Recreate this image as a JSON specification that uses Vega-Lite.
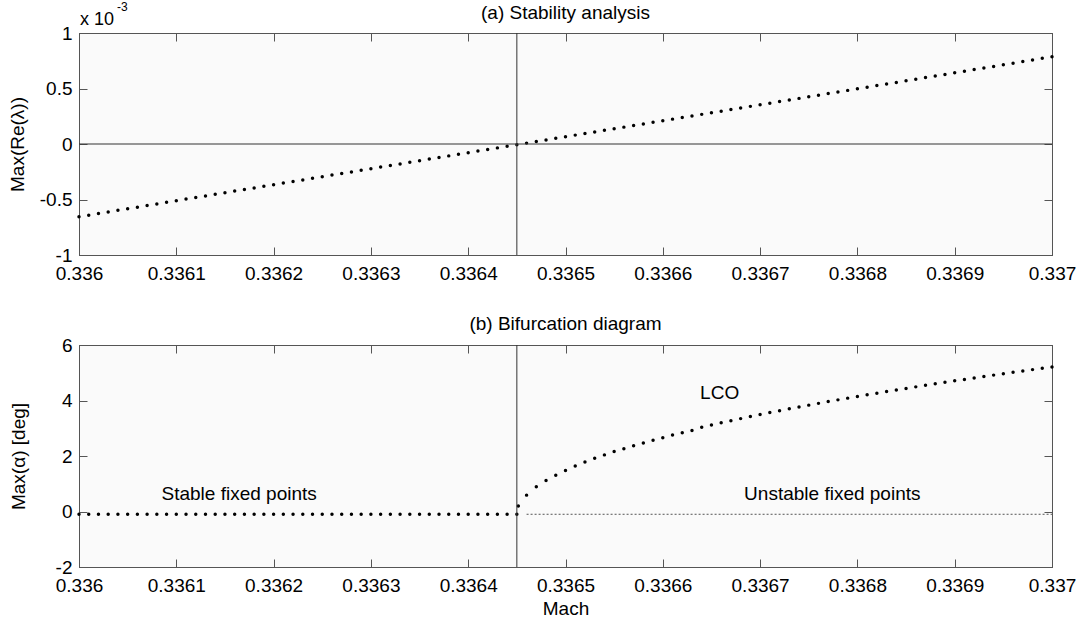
{
  "$schema": "https://vega.github.io/schema/vega-lite/v6.json",
  "background": "white",
  "padding": {"left": 7, "top": 0, "right": 28, "bottom": 4},
  "config": {
    "font": "Liberation Sans",
    "view": {"fill": "#fafafa", "stroke": "#555555", "strokeWidth": 1},
    "axis": {"domainColor": "#555555", "tickColor": "#555555", "labelColor": "black", "titleColor": "black", "labelFont": "Liberation Sans", "titleFont": "Liberation Sans", "labelFontSize": 19, "titleFontSize": 19, "titleFontWeight": "normal", "tickSize": -8, "grid": false, "labelFlush": false, "labelOverlap": false},
    "title": {"font": "Liberation Sans", "fontSize": 19, "fontWeight": "normal", "color": "black", "anchor": "middle"},
    "concat": {"spacing": 30}
  },
  "datasets": {
    "a": [
      {"x":0.336,"y":-0.655},{"x":0.33601,"y":-0.641},{"x":0.33602,"y":-0.626},{"x":0.33603,"y":-0.612},{"x":0.33604,"y":-0.597},{"x":0.33605,"y":-0.583},{"x":0.33606,"y":-0.569},{"x":0.33607,"y":-0.554},{"x":0.33608,"y":-0.54},{"x":0.33609,"y":-0.525},
      {"x":0.3361,"y":-0.511},{"x":0.33611,"y":-0.496},{"x":0.33612,"y":-0.482},{"x":0.33613,"y":-0.468},{"x":0.33614,"y":-0.453},{"x":0.33615,"y":-0.439},{"x":0.33616,"y":-0.424},{"x":0.33617,"y":-0.41},{"x":0.33618,"y":-0.396},{"x":0.33619,"y":-0.381},
      {"x":0.3362,"y":-0.367},{"x":0.33621,"y":-0.352},{"x":0.33622,"y":-0.338},{"x":0.33623,"y":-0.324},{"x":0.33624,"y":-0.309},{"x":0.33625,"y":-0.295},{"x":0.33626,"y":-0.28},{"x":0.33627,"y":-0.266},{"x":0.33628,"y":-0.252},{"x":0.33629,"y":-0.237},
      {"x":0.3363,"y":-0.223},{"x":0.33631,"y":-0.208},{"x":0.33632,"y":-0.194},{"x":0.33633,"y":-0.18},{"x":0.33634,"y":-0.165},{"x":0.33635,"y":-0.151},{"x":0.33636,"y":-0.136},{"x":0.33637,"y":-0.122},{"x":0.33638,"y":-0.107},{"x":0.33639,"y":-0.093},
      {"x":0.3364,"y":-0.079},{"x":0.33641,"y":-0.064},{"x":0.33642,"y":-0.05},{"x":0.33643,"y":-0.035},{"x":0.33644,"y":-0.021},{"x":0.33645,"y":-0.007},{"x":0.33646,"y":0.008},{"x":0.33647,"y":0.022},{"x":0.33648,"y":0.037},{"x":0.33649,"y":0.051},
      {"x":0.3365,"y":0.066},{"x":0.33651,"y":0.08},{"x":0.33652,"y":0.094},{"x":0.33653,"y":0.109},{"x":0.33654,"y":0.123},{"x":0.33655,"y":0.138},{"x":0.33656,"y":0.152},{"x":0.33657,"y":0.166},{"x":0.33658,"y":0.181},{"x":0.33659,"y":0.195},
      {"x":0.3366,"y":0.21},{"x":0.33661,"y":0.224},{"x":0.33662,"y":0.238},{"x":0.33663,"y":0.253},{"x":0.33664,"y":0.267},{"x":0.33665,"y":0.282},{"x":0.33666,"y":0.296},{"x":0.33667,"y":0.31},{"x":0.33668,"y":0.325},{"x":0.33669,"y":0.339},
      {"x":0.3367,"y":0.354},{"x":0.33671,"y":0.368},{"x":0.33672,"y":0.383},{"x":0.33673,"y":0.397},{"x":0.33674,"y":0.411},{"x":0.33675,"y":0.426},{"x":0.33676,"y":0.44},{"x":0.33677,"y":0.455},{"x":0.33678,"y":0.469},{"x":0.33679,"y":0.483},
      {"x":0.3368,"y":0.498},{"x":0.33681,"y":0.512},{"x":0.33682,"y":0.527},{"x":0.33683,"y":0.541},{"x":0.33684,"y":0.555},{"x":0.33685,"y":0.57},{"x":0.33686,"y":0.584},{"x":0.33687,"y":0.599},{"x":0.33688,"y":0.613},{"x":0.33689,"y":0.627},
      {"x":0.3369,"y":0.642},{"x":0.33691,"y":0.656},{"x":0.33692,"y":0.671},{"x":0.33693,"y":0.685},{"x":0.33694,"y":0.699},{"x":0.33695,"y":0.714},{"x":0.33696,"y":0.728},{"x":0.33697,"y":0.743},{"x":0.33698,"y":0.757},{"x":0.33699,"y":0.772},
      {"x":0.337,"y":0.786}
    ],
    "b": [
      {"x":0.336,"y":-0.1},{"x":0.33601,"y":-0.1},{"x":0.33602,"y":-0.1},{"x":0.33603,"y":-0.1},{"x":0.33604,"y":-0.1},{"x":0.33605,"y":-0.1},{"x":0.33606,"y":-0.1},{"x":0.33607,"y":-0.1},{"x":0.33608,"y":-0.1},{"x":0.33609,"y":-0.1},
      {"x":0.3361,"y":-0.1},{"x":0.33611,"y":-0.1},{"x":0.33612,"y":-0.1},{"x":0.33613,"y":-0.1},{"x":0.33614,"y":-0.1},{"x":0.33615,"y":-0.1},{"x":0.33616,"y":-0.1},{"x":0.33617,"y":-0.1},{"x":0.33618,"y":-0.1},{"x":0.33619,"y":-0.1},
      {"x":0.3362,"y":-0.1},{"x":0.33621,"y":-0.1},{"x":0.33622,"y":-0.1},{"x":0.33623,"y":-0.1},{"x":0.33624,"y":-0.1},{"x":0.33625,"y":-0.1},{"x":0.33626,"y":-0.1},{"x":0.33627,"y":-0.1},{"x":0.33628,"y":-0.1},{"x":0.33629,"y":-0.1},
      {"x":0.3363,"y":-0.1},{"x":0.33631,"y":-0.1},{"x":0.33632,"y":-0.1},{"x":0.33633,"y":-0.1},{"x":0.33634,"y":-0.1},{"x":0.33635,"y":-0.1},{"x":0.33636,"y":-0.1},{"x":0.33637,"y":-0.1},{"x":0.33638,"y":-0.1},{"x":0.33639,"y":-0.1},
      {"x":0.3364,"y":-0.1},{"x":0.33641,"y":-0.1},{"x":0.33642,"y":-0.1},{"x":0.33643,"y":-0.1},{"x":0.33644,"y":-0.1},{"x":0.33645,"y":-0.1},
      {"x":0.3364515,"y":0.2},{"x":0.33646,"y":0.59},{"x":0.33647,"y":0.89},{"x":0.33648,"y":1.12},{"x":0.33649,"y":1.31},{"x":0.3365,"y":1.48},{"x":0.33651,"y":1.64},{"x":0.33652,"y":1.78},{"x":0.33653,"y":1.92},{"x":0.33654,"y":2.04},
      {"x":0.33655,"y":2.16},{"x":0.33656,"y":2.26},{"x":0.33657,"y":2.37},{"x":0.33658,"y":2.47},{"x":0.33659,"y":2.57},{"x":0.3366,"y":2.66},{"x":0.33661,"y":2.76},{"x":0.33662,"y":2.84},{"x":0.33663,"y":2.92},{"x":0.33664,"y":3.035},
      {"x":0.33665,"y":3.116},{"x":0.33666,"y":3.195},{"x":0.33667,"y":3.272},{"x":0.33668,"y":3.347},{"x":0.33669,"y":3.421},{"x":0.3367,"y":3.493},{"x":0.33671,"y":3.564},{"x":0.33672,"y":3.633},{"x":0.33673,"y":3.701},{"x":0.33674,"y":3.767},
      {"x":0.33675,"y":3.833},{"x":0.33676,"y":3.897},{"x":0.33677,"y":3.961},{"x":0.33678,"y":4.023},{"x":0.33679,"y":4.085},{"x":0.3368,"y":4.145},{"x":0.33681,"y":4.205},{"x":0.33682,"y":4.264},{"x":0.33683,"y":4.322},{"x":0.33684,"y":4.379},
      {"x":0.33685,"y":4.435},{"x":0.33686,"y":4.491},{"x":0.33687,"y":4.546},{"x":0.33688,"y":4.601},{"x":0.33689,"y":4.654},{"x":0.3369,"y":4.708},{"x":0.33691,"y":4.76},{"x":0.33692,"y":4.812},{"x":0.33693,"y":4.864},{"x":0.33694,"y":4.915},
      {"x":0.33695,"y":4.965},{"x":0.33696,"y":5.015},{"x":0.33697,"y":5.064},{"x":0.33698,"y":5.113},{"x":0.33699,"y":5.162},{"x":0.337,"y":5.21}
    ],
    "unstable": [{"x":0.33646,"y":-0.1},{"x":0.337,"y":-0.1}],
    "notes": [
      {"x":0.3361646,"y":0.63,"label":"Stable fixed points"},
      {"x":0.3367742,"y":0.63,"label":"Unstable fixed points"},
      {"x":0.3366584,"y":4.27,"label":"LCO"}
    ]
  },
  "vconcat": [
    {
      "width": 973,
      "height": 222,
      "title": {"text": "(a) Stability analysis", "offset": -22},
      "layer": [
        {
          "data": {"name": "a"},
          "mark": {"type": "circle", "size": 12, "color": "black", "opacity": 1},
          "encoding": {
            "x": {"field": "x", "type": "quantitative", "scale": {"domain": [0.336, 0.337], "nice": false, "zero": false},
                  "axis": {"orient": "bottom", "values": [0.336,0.3361,0.3362,0.3363,0.3364,0.3365,0.3366,0.3367,0.3368,0.3369,0.337], "format": ".4~f", "labelPadding": 17, "title": null}},
            "y": {"field": "y", "type": "quantitative", "scale": {"domain": [-1, 1], "nice": false, "zero": false},
                  "axis": {"orient": "left", "values": [-1,-0.5,0,0.5,1], "format": ".1~f", "labelExpr": "replace(datum.label, '\u2212', '-')", "labelPadding": 15, "title": "Max(Re(λ))", "titlePadding": 12}}
          }
        },
        {
          "data": {"values": [{}]},
          "mark": {"type": "rule", "color": "#333333", "strokeWidth": 1},
          "encoding": {
            "x": {"datum": 0.33645, "type": "quantitative", "scale": {"domain": [0.336, 0.337], "nice": false, "zero": false},
                  "axis": {"orient": "top", "values": [0.336,0.3361,0.3362,0.3363,0.3364,0.3365,0.3366,0.3367,0.3368,0.3369,0.337], "labels": false, "title": null}}
          }
        },
        {
          "data": {"values": [{}]},
          "mark": {"type": "rule", "color": "#333333", "strokeWidth": 1},
          "encoding": {
            "y": {"datum": 0, "type": "quantitative", "scale": {"domain": [-1, 1], "nice": false, "zero": false},
                  "axis": {"orient": "right", "values": [-1,-0.5,0,0.5,1], "labels": false, "title": null}}
          }
        },
        {
          "data": {"values": [{}]},
          "mark": {"type": "text", "align": "left", "baseline": "alphabetic", "dx": 1, "dy": -8, "fontSize": 18, "color": "black"},
          "encoding": {
            "x": {"datum": 0.336, "type": "quantitative", "axis": null},
            "y": {"datum": 1, "type": "quantitative", "axis": null},
            "text": {"value": "x 10"}
          }
        },
        {
          "data": {"values": [{}]},
          "mark": {"type": "text", "align": "left", "baseline": "alphabetic", "dx": 38, "dy": -22, "fontSize": 12, "color": "black"},
          "encoding": {
            "x": {"datum": 0.336, "type": "quantitative", "axis": null},
            "y": {"datum": 1, "type": "quantitative", "axis": null},
            "text": {"value": "-3"}
          }
        }
      ],
      "resolve": {"axis": {"x": "independent", "y": "independent"}}
    },
    {
      "width": 973,
      "height": 222,
      "title": {"text": "(b) Bifurcation diagram", "offset": 2},
      "layer": [
        {
          "data": {"name": "b"},
          "mark": {"type": "circle", "size": 12, "color": "black", "opacity": 1},
          "encoding": {
            "x": {"field": "x", "type": "quantitative", "scale": {"domain": [0.336, 0.337], "nice": false, "zero": false},
                  "axis": {"orient": "bottom", "values": [0.336,0.3361,0.3362,0.3363,0.3364,0.3365,0.3366,0.3367,0.3368,0.3369,0.337], "format": ".4~f", "labelPadding": 17, "title": "Mach", "titlePadding": 4}},
            "y": {"field": "y", "type": "quantitative", "scale": {"domain": [-2, 6], "nice": false, "zero": false},
                  "axis": {"orient": "left", "values": [-2,0,2,4,6], "labelExpr": "replace(datum.label, '\u2212', '-')", "labelPadding": 15, "title": "Max(α) [deg]", "titlePadding": 27}}
          }
        },
        {
          "data": {"values": [{}]},
          "mark": {"type": "rule", "color": "#333333", "strokeWidth": 1},
          "encoding": {
            "x": {"datum": 0.33645, "type": "quantitative", "scale": {"domain": [0.336, 0.337], "nice": false, "zero": false},
                  "axis": {"orient": "top", "values": [0.336,0.3361,0.3362,0.3363,0.3364,0.3365,0.3366,0.3367,0.3368,0.3369,0.337], "labels": false, "title": null}}
          }
        },
        {
          "data": {"name": "unstable"},
          "mark": {"type": "line", "color": "#555555", "strokeWidth": 1, "strokeDash": [2, 2]},
          "encoding": {
            "x": {"field": "x", "type": "quantitative", "axis": null},
            "y": {"field": "y", "type": "quantitative", "scale": {"domain": [-2, 6], "nice": false, "zero": false},
                  "axis": {"orient": "right", "values": [-2,0,2,4,6], "labels": false, "title": null}}
          }
        },
        {
          "data": {"name": "notes"},
          "mark": {"type": "text", "align": "center", "baseline": "middle", "fontSize": 19, "color": "black"},
          "encoding": {
            "x": {"field": "x", "type": "quantitative", "axis": null},
            "y": {"field": "y", "type": "quantitative", "axis": null},
            "text": {"field": "label"}
          }
        }
      ],
      "resolve": {"axis": {"x": "independent", "y": "independent"}}
    }
  ]
}
